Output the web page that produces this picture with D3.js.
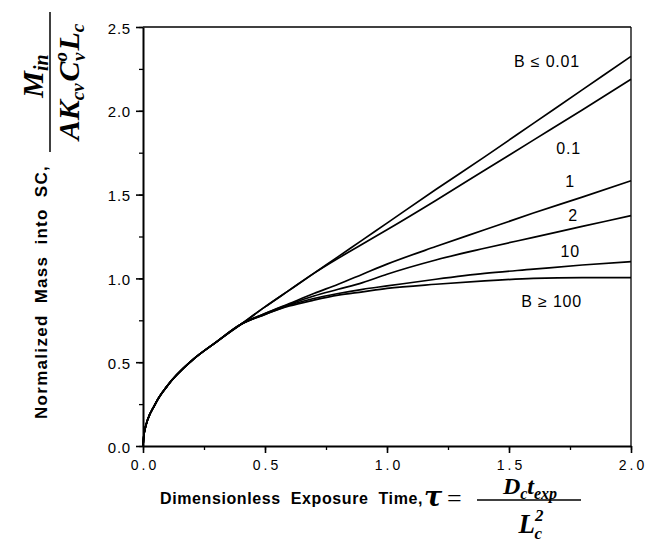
<!DOCTYPE html>
<html>
<head>
<meta charset="utf-8">
<script src="https://cdn.jsdelivr.net/npm/d3@7"></script>
<style>
  html, body { margin: 0; padding: 0; background: #fff; }
  svg { display: block; }
  .tick text { font-family: "Liberation Sans", Arial, sans-serif; fill: #000; }
</style>
</head>
<body>
<svg id="chart" width="648" height="555"></svg>
<script>
// ---- data ----
const tau = [0, 0.005, 0.05, 0.1, 0.2, 0.3, 0.4, 0.5, 0.6, 0.7, 0.8, 0.9, 1.0, 1.2, 1.4, 1.6, 1.8, 2.0];
const massB001 = [0, 0.08, 0.25, 0.36, 0.51, 0.62, 0.725, 0.83, 0.93, 1.03, 1.13, 1.23, 1.33, 1.53, 1.725, 1.925, 2.125, 2.325];
const massB01  = [0, 0.08, 0.25, 0.36, 0.51, 0.62, 0.725, 0.83, 0.93, 1.03, 1.12, 1.205, 1.29, 1.465, 1.645, 1.825, 2.005, 2.188];
const massB1   = [0, 0.08, 0.25, 0.36, 0.51, 0.62, 0.725, 0.79, 0.85, 0.91, 0.965, 1.025, 1.085, 1.19, 1.29, 1.39, 1.485, 1.583];
const massB2   = [0, 0.08, 0.25, 0.36, 0.51, 0.62, 0.725, 0.79, 0.845, 0.895, 0.935, 0.975, 1.025, 1.11, 1.18, 1.245, 1.31, 1.375];
const massB10  = [0, 0.08, 0.25, 0.36, 0.51, 0.62, 0.725, 0.785, 0.84, 0.88, 0.91, 0.935, 0.955, 0.995, 1.03, 1.055, 1.08, 1.10];
const massB100 = [0, 0.08, 0.25, 0.36, 0.51, 0.62, 0.725, 0.785, 0.835, 0.87, 0.9, 0.92, 0.94, 0.965, 0.985, 1.0, 1.005, 1.005];
const seriesValues = [massB001, massB01, massB1, massB2, massB10, massB100];
const seriesLabels = ["B \u2264 0.01", "0.1", "1", "2", "10", "B \u2265 100"];
const xTicks = [0, 0.5, 1.0, 1.5, 2.0];
const yTicks = [0, 0.5, 1.0, 1.5, 2.0, 2.5];

// ---- layout ----
const svg = d3.select("#chart");
const pL = 143, pR = 631, pT = 27, pB = 446;
const x = d3.scaleLinear().domain([0, 2]).range([pL, pR]);
const y = d3.scaleLinear().domain([0, 2.5]).range([pB, pT]);
const sans = '"Liberation Sans", Arial, Helvetica, sans-serif';
const serif = '"Liberation Serif", "Times New Roman", serif';

svg.append("rect").attr("width", 648).attr("height", 555).attr("fill", "#fff");

// frame top & right
svg.append("line").attr("x1", pL).attr("x2", pR).attr("y1", pT).attr("y2", pT)
  .attr("stroke", "#000").attr("stroke-width", 1.3);
svg.append("line").attr("x1", pR).attr("x2", pR).attr("y1", pT).attr("y2", pB)
  .attr("stroke", "#000").attr("stroke-width", 1.3);

// minor ticks
const xMinor = d3.range(0, 2.001, 0.25);
const yMinor = d3.range(0, 2.501, 0.25);
svg.append("g").attr("transform", `translate(0,${pB})`)
  .call(d3.axisBottom(x).tickValues(xMinor).tickSize(4).tickFormat(""))
  .call(g => g.select(".domain").remove())
  .selectAll("line").attr("stroke-width", 1.3);
svg.append("g").attr("transform", `translate(${pL},0)`)
  .call(d3.axisLeft(y).tickValues(yMinor).tickSize(4).tickFormat(""))
  .call(g => g.select(".domain").remove())
  .selectAll("line").attr("stroke-width", 1.3);

// x axis
const gx = svg.append("g").attr("transform", `translate(0,${pB})`)
  .call(d3.axisBottom(x).tickValues(xTicks).tickSize(7).tickSizeOuter(0).tickPadding(7).tickFormat(d3.format(".1f")));
gx.select(".domain").attr("stroke-width", 2);
gx.selectAll(".tick line").attr("stroke-width", 1.6);
gx.selectAll(".tick text").attr("font-size", 14).attr("letter-spacing", "3px").attr("dx", "1.5px");

// y axis
const gy = svg.append("g").attr("transform", `translate(${pL},0)`)
  .call(d3.axisLeft(y).tickValues(yTicks).tickSize(7).tickSizeOuter(0).tickPadding(5).tickFormat(d3.format(".1f")));
gy.select(".domain").attr("stroke-width", 2);
gy.selectAll(".tick line").attr("stroke-width", 1.6);
gy.selectAll(".tick text").attr("font-size", 15).attr("letter-spacing", "0.8px").attr("dy", "0.4em");

// curves
const line = d3.line().x((d, i) => x(tau[i])).y(d => y(d)).curve(d3.curveMonotoneX);
svg.append("g").selectAll("path").data(seriesValues).join("path")
  .attr("d", line).attr("fill", "none").attr("stroke", "#000").attr("stroke-width", 1.7)
  .attr("stroke-linejoin", "round");

// curve labels
const labelPos = [[580, 67], [581, 154], [575, 187], [578, 221], [580, 257], [582, 307]];
svg.append("g").selectAll("text").data(seriesLabels).join("text")
  .attr("x", (d, i) => labelPos[i][0]).attr("y", (d, i) => labelPos[i][1])
  .attr("text-anchor", "end").attr("font-family", sans).attr("font-size", 16)
  .attr("letter-spacing", "0.8px").text(d => d);

// x axis title
svg.append("text").attr("x", 160).attr("y", 504).attr("font-family", sans)
  .attr("font-size", 16).attr("font-weight", "bold").attr("letter-spacing", "0.6px")
  .attr("word-spacing", "5px").text("Dimensionless Exposure Time,");
svg.append("text").attr("x", 424).attr("y", 506).attr("font-family", '"DejaVu Serif", serif')
  .attr("font-size", 27).attr("font-weight", "bold").attr("font-style", "italic").text("\u03C4");
svg.append("text").attr("x", 447).attr("y", 507).attr("font-family", serif)
  .attr("font-size", 26).text("=");
svg.append("line").attr("x1", 477).attr("x2", 581).attr("y1", 500).attr("y2", 500)
  .attr("stroke", "#000").attr("stroke-width", 1.5);
const num = svg.append("text").attr("x", 530).attr("y", 494).attr("text-anchor", "middle")
  .attr("font-family", serif).attr("font-weight", "bold").attr("font-style", "italic").attr("font-size", 24);
num.append("tspan").text("D");
num.append("tspan").attr("font-size", 16).attr("dy", 5).text("c");
num.append("tspan").attr("dy", -5).text("t");
num.append("tspan").attr("font-size", 16).attr("dy", 5).text("exp");
const den = svg.append("text").attr("x", 531).attr("y", 533).attr("text-anchor", "middle")
  .attr("font-family", serif).attr("font-weight", "bold").attr("font-style", "italic").attr("font-size", 27);
den.append("tspan").text("L");
den.append("tspan").attr("font-size", 17).attr("dy", -12).text("2");
den.append("tspan").attr("font-size", 17).attr("dx", -9).attr("dy", 18).text("c");

// y axis title (rotated)
svg.append("text").attr("transform", "translate(47,292) rotate(-90)").attr("text-anchor", "middle")
  .attr("font-family", sans).attr("font-size", 17).attr("font-weight", "bold")
  .attr("letter-spacing", "1.3px").attr("word-spacing", "5px").text("Normalized Mass into SC,");
const ynum = svg.append("text").attr("transform", "translate(43,76) rotate(-90)").attr("text-anchor", "middle")
  .attr("font-family", serif).attr("font-weight", "bold").attr("font-style", "italic").attr("font-size", 30);
ynum.append("tspan").text("M");
ynum.append("tspan").attr("font-size", 20).attr("dy", 5).text("in");
svg.append("line").attr("x1", 50).attr("x2", 50).attr("y1", 12).attr("y2", 152)
  .attr("stroke", "#000").attr("stroke-width", 1.5);
const yden = svg.append("text").attr("transform", "translate(79,82) rotate(-90)").attr("text-anchor", "middle")
  .attr("font-family", serif).attr("font-weight", "bold").attr("font-style", "italic").attr("font-size", 30);
yden.append("tspan").text("AK");
yden.append("tspan").attr("font-size", 19).attr("dy", 5).text("cv");
yden.append("tspan").attr("dx", 2).attr("dy", -5).text("C");
yden.append("tspan").attr("font-size", 19).attr("dy", -12).text("o");
yden.append("tspan").attr("font-size", 19).attr("dx", -9).attr("dy", 18).text("v");
yden.append("tspan").attr("dx", 2).attr("dy", -6).text("L");
yden.append("tspan").attr("font-size", 19).attr("dy", 5).text("c");
</script>
</body>
</html>
